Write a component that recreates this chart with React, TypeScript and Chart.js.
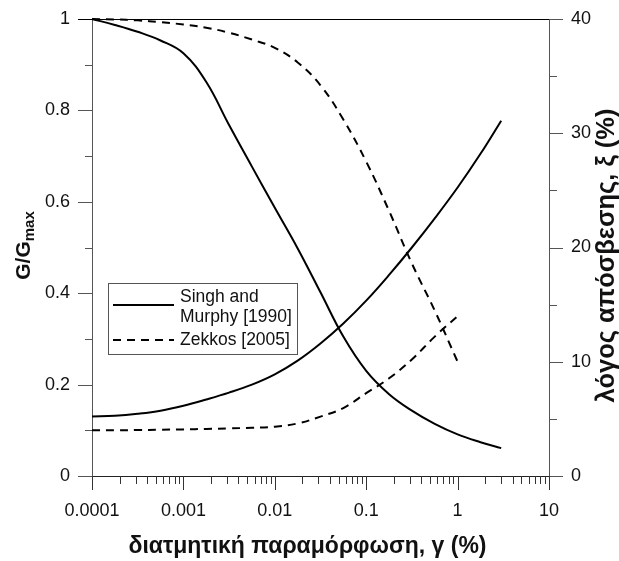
import React, { useEffect, useRef } from 'react';
import { Chart, registerables } from 'chart.js';

Chart.register(...registerables);

// ---- data (at quarter-decade strains) ----
const strainSingh = [0.0001, 0.000178, 0.000316, 0.000562, 0.001, 0.00178, 0.00316, 0.00562, 0.01, 0.0178, 0.0316, 0.0562, 0.1, 0.178, 0.316, 0.562, 1, 1.78, 3];
const singhG = [1.0, 0.987, 0.972, 0.953, 0.925, 0.862, 0.768, 0.677, 0.587, 0.498, 0.402, 0.305, 0.23, 0.179, 0.143, 0.114, 0.091, 0.074, 0.061];
const singhD = [5.2, 5.27, 5.45, 5.72, 6.15, 6.7, 7.3, 8.0, 8.9, 10.1, 11.6, 13.35, 15.35, 17.6, 20.0, 22.55, 25.25, 28.2, 31.1];

const strainZekkos = [0.0001, 0.000178, 0.000316, 0.000562, 0.001, 0.00178, 0.00316, 0.00562, 0.01, 0.0178, 0.0316, 0.0562, 0.1, 0.178, 0.316, 0.562, 1];
const zekkosG = [1.0, 0.999, 0.997, 0.993, 0.988, 0.981, 0.97, 0.955, 0.937, 0.905, 0.855, 0.78, 0.688, 0.58, 0.465, 0.362, 0.25];
const zekkosD = [4.0, 4.0, 4.02, 4.05, 4.08, 4.12, 4.17, 4.22, 4.32, 4.6, 5.2, 5.95, 7.25, 8.55, 10.2, 12.2, 14.0];

const xTickValues = [0.0001, 0.001, 0.01, 0.1, 1, 10];
const xTickLabels = ['0.0001', '0.001', '0.01', '0.1', '1', '10'];
const xMinorMultipliers = [2, 3, 4, 5, 6, 7, 8, 9];
const yLeftTicks = [0, 0.2, 0.4, 0.6, 0.8, 1];
const yLeftLabels = ['0', '0.2', '0.4', '0.6', '0.8', '1'];
const yLeftMinor = [0.1, 0.3, 0.5, 0.7, 0.9];
const yRightTicks = [0, 10, 20, 30, 40];
const yRightLabels = ['0', '10', '20', '30', '40'];
const yRightMinor = [5, 15, 25, 35];

const legendSingh = ['Singh and', 'Murphy [1990]'];
const legendZekkos = ['Zekkos [2005]'];
const xTitle = 'διατμητική παραμόρφωση, γ (%)';
const yLeftTitleMain = 'G/G';
const yLeftTitleSub = 'max';
const yRightTitle = 'λόγος απόσβεσης, ξ (%)';

const FONT = "'Liberation Sans', Arial, sans-serif";
const DASH = [8, 6];

const decorPlugin = {
  id: 'decor',
  afterDraw(chart: any) {
    const { ctx, chartArea: ca, scales, width } = chart;
    const xs = scales.x;
    const yl = scales.y;
    const yr = scales.y1;
    ctx.save();
    const seg = (x1: number, y1: number, x2: number, y2: number, color: string) => {
      ctx.strokeStyle = color;
      ctx.lineWidth = 1;
      ctx.beginPath();
      ctx.moveTo(x1, y1);
      ctx.lineTo(x2, y2);
      ctx.stroke();
    };
    // top border
    seg(ca.left, Math.round(ca.top) + 0.5, ca.right, Math.round(ca.top) + 0.5, '#000');
    // left ticks
    yLeftTicks.forEach((v) => {
      const p = Math.round(yl.getPixelForValue(v)) + 0.5;
      seg(ca.left - 14, p, ca.left, p, v === 1 ? '#000' : '#555');
    });
    yLeftMinor.forEach((v) => {
      const p = Math.round(yl.getPixelForValue(v)) + 0.5;
      seg(ca.left - 7, p, ca.left, p, '#555');
    });
    // right ticks
    yRightTicks.forEach((v) => {
      const p = Math.round(yr.getPixelForValue(v)) + 0.5;
      seg(ca.right, p, ca.right + 14, p, '#555');
    });
    yRightMinor.forEach((v) => {
      const p = Math.round(yr.getPixelForValue(v)) + 0.5;
      seg(ca.right, p, ca.right + 8, p, '#555');
    });
    // bottom ticks
    xTickValues.forEach((v, i) => {
      const p = Math.round(xs.getPixelForValue(v)) + 0.5;
      seg(p, ca.bottom, p, ca.bottom + 14, '#333');
      if (i < xTickValues.length - 1) {
        xMinorMultipliers.forEach((m) => {
          const q = Math.round(xs.getPixelForValue(v * m)) + 0.5;
          seg(q, ca.bottom, q, ca.bottom + 8, '#333');
        });
      }
    });

    // legend
    const lx = ca.left + 16;
    const ly = ca.top + 264;
    ctx.strokeStyle = '#555';
    ctx.lineWidth = 1;
    ctx.strokeRect(Math.round(lx) + 0.5, Math.round(ly) + 0.5, 189, 71);
    ctx.strokeStyle = '#000';
    ctx.lineWidth = 2;
    ctx.beginPath();
    ctx.moveTo(lx + 5, ly + 22);
    ctx.lineTo(lx + 66, ly + 22);
    ctx.stroke();
    ctx.setLineDash(DASH);
    ctx.beginPath();
    ctx.moveTo(lx + 5, ly + 57);
    ctx.lineTo(lx + 66, ly + 57);
    ctx.stroke();
    ctx.setLineDash([]);
    ctx.fillStyle = '#111';
    ctx.font = `17.5px ${FONT}`;
    ctx.textAlign = 'left';
    ctx.textBaseline = 'middle';
    ctx.fillText(legendSingh[0], lx + 72, ly + 14);
    ctx.fillText(legendSingh[1], lx + 72, ly + 34);
    ctx.fillText(legendZekkos[0], lx + 72, ly + 57);

    // x title (centred on the figure)
    ctx.font = `bold 23px ${FONT}`;
    ctx.textAlign = 'center';
    ctx.textBaseline = 'middle';
    ctx.fillText(xTitle, width / 2 - 2, ca.bottom + 71);

    // left title with subscript
    const cy = (ca.top + ca.bottom) / 2;
    ctx.save();
    ctx.translate(30, cy - 2);
    ctx.rotate(-Math.PI / 2);
    ctx.font = `bold 21px ${FONT}`;
    const wMain = ctx.measureText(yLeftTitleMain).width;
    ctx.font = `bold 15px ${FONT}`;
    const wSub = ctx.measureText(yLeftTitleSub).width;
    const start = -(wMain + wSub) / 2;
    ctx.textAlign = 'left';
    ctx.textBaseline = 'alphabetic';
    ctx.font = `bold 21px ${FONT}`;
    ctx.fillText(yLeftTitleMain, start, 0);
    ctx.font = `bold 15px ${FONT}`;
    ctx.fillText(yLeftTitleSub, start + wMain, 4);
    ctx.restore();

    // right title
    ctx.save();
    ctx.translate(607, cy + 8);
    ctx.rotate(-Math.PI / 2);
    ctx.font = `bold 25.5px ${FONT}`;
    ctx.textAlign = 'center';
    ctx.textBaseline = 'middle';
    ctx.fillText(yRightTitle, 0, 0);
    ctx.restore();

    ctx.restore();
  },
};

const toPoints = (xs: number[], ys: number[]) => xs.map((x, i) => ({ x, y: ys[i] }));

const zeroPad = (s: any) => {
  s.paddingTop = 0;
  s.paddingBottom = 0;
  s.paddingLeft = 0;
  s.paddingRight = 0;
};

export default function App() {
  const ref = useRef<HTMLCanvasElement | null>(null);
  useEffect(() => {
    if (!ref.current) return;
    const base = {
      borderColor: '#000',
      borderWidth: 2,
      pointRadius: 0,
      fill: false,
      tension: 0.4,
      clip: 4,
    };
    const chart = new Chart(ref.current, {
      type: 'line',
      data: {
        datasets: [
          { ...base, label: 'Singh and Murphy [1990] G/Gmax', data: toPoints(strainSingh, singhG), yAxisID: 'y' },
          { ...base, label: 'Singh and Murphy [1990] ξ', data: toPoints(strainSingh, singhD), yAxisID: 'y1' },
          { ...base, label: 'Zekkos [2005] G/Gmax', data: toPoints(strainZekkos, zekkosG), yAxisID: 'y', borderDash: DASH },
          { ...base, label: 'Zekkos [2005] ξ', data: toPoints(strainZekkos, zekkosD), yAxisID: 'y1', borderDash: DASH },
        ],
      },
      options: {
        animation: false,
        responsive: true,
        maintainAspectRatio: false,
        layout: { padding: { top: 19, left: 0, right: 0, bottom: 0 } },
        plugins: { legend: { display: false }, tooltip: { enabled: false } },
        scales: {
          x: {
            type: 'logarithmic',
            min: 0.0001,
            max: 10,
            afterBuildTicks: (s: any) => {
              s.ticks = xTickValues.map((v) => ({ value: v }));
            },
            afterFit: (s: any) => {
              s.height = 85;
              zeroPad(s);
            },
            grid: { drawOnChartArea: false, drawTicks: false },
            border: { display: true, color: '#222', width: 1 },
            ticks: {
              autoSkip: false,
              maxRotation: 0,
              padding: 24,
              color: '#111',
              font: { family: FONT, size: 18 },
              callback: (_v: any, i: number) => xTickLabels[i],
            },
          },
          y: {
            type: 'linear',
            position: 'left',
            min: 0,
            max: 1,
            afterBuildTicks: (s: any) => {
              s.ticks = yLeftTicks.map((v) => ({ value: v }));
            },
            afterFit: (s: any) => {
              s.width = 92;
              zeroPad(s);
            },
            grid: { drawOnChartArea: false, drawTicks: false },
            border: { display: true, color: '#555', width: 1 },
            ticks: {
              padding: 22,
              color: '#111',
              font: { family: FONT, size: 18 },
              callback: (_v: any, i: number) => yLeftLabels[i],
            },
          },
          y1: {
            type: 'linear',
            position: 'right',
            min: 0,
            max: 40,
            afterBuildTicks: (s: any) => {
              s.ticks = yRightTicks.map((v) => ({ value: v }));
            },
            afterFit: (s: any) => {
              s.width = 70;
              zeroPad(s);
            },
            grid: { drawOnChartArea: false, drawTicks: false },
            border: { display: true, color: '#555', width: 1 },
            ticks: {
              padding: 22,
              color: '#111',
              font: { family: FONT, size: 18 },
              callback: (_v: any, i: number) => yRightLabels[i],
            },
          },
        },
      },
      plugins: [decorPlugin],
    });
    return () => chart.destroy();
  }, []);

  return (
    <div style={{ position: 'fixed', left: 0, top: 0, width: 619, height: 561, background: '#fff' }}>
      <canvas ref={ref} />
    </div>
  );
}
